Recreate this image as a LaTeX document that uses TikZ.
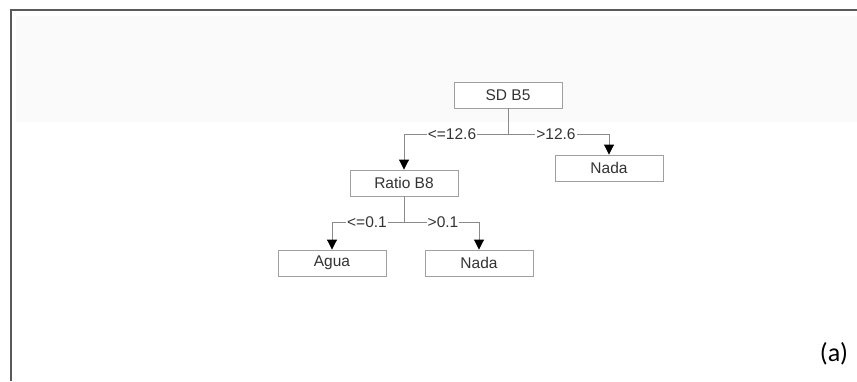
\documentclass[tikz,border=0pt]{standalone}
\usepackage{fontspec}
\setmainfont{Liberation Sans}
\newfontfamily\calib{Carlito}
\usetikzlibrary{arrows.meta}
\definecolor{boxgray}{HTML}{A0A0A0}
\definecolor{linegray}{HTML}{8A8A8A}
\definecolor{txtgray}{HTML}{333333}
\tikzset{
  treebox/.style={draw=boxgray, line width=0.9pt, fill=white, minimum width=108pt, minimum height=26pt, inner sep=0pt, font=\fontsize{15.5}{17}\selectfont, text=txtgray},
  conn/.style={draw=linegray, line width=0.9pt},
  arr/.style={conn, -{Triangle[width=10pt,length=10pt,color=black,fill=black]}},
  lbl/.style={fill=white, inner sep=1pt, font=\fontsize{15.5}{17}\selectfont, text=txtgray},
  frame/.style={draw=black!65, line width=1.6pt}
}
\begin{document}
\begin{tikzpicture}[x=1pt,y=-1pt]
\useasboundingbox (0,0) rectangle (857,381);
\fill[white] (0,0) rectangle (857,381);
\fill[black!2] (16,16) rectangle (857,122);
\draw[frame] (857,10) -- (11,10) -- (11,381);
% nodes
\node[treebox] (sd) at (508,95) {SD B5};
\node[treebox] (ratio) at (404,183) {Ratio B8};
\node[treebox] (nada1) at (609,168) {Nada};
\node[treebox] (agua) at (332,263) {Agua};
\node[treebox] (nada2) at (479,263) {Nada};
\coordinate (s1) at (508,134);
\coordinate (s2) at (404,222);
% connectors
\draw[conn] (sd.south) -- (s1);
\draw[arr] (s1) -| (ratio.north);
\draw[arr] (s1) -| (nada1.north);
\draw[conn] (ratio.south) -- (s2);
\draw[arr] (s2) -| (agua.north);
\draw[arr] (s2) -| (nada2.north);
% labels
\node[lbl] (l1) at (452,134) {<=12.6};
\node[lbl] (l2) at (556,134) {>12.6};
\node[lbl] (l3) at (367,222) {<=0.1};
\node[lbl] (l4) at (443,222) {>0.1};
\node[font=\calib\fontsize{26}{30}\selectfont, text=black, inner sep=0pt] (a) at (834,354) {(a)};
\end{tikzpicture}
\end{document}
